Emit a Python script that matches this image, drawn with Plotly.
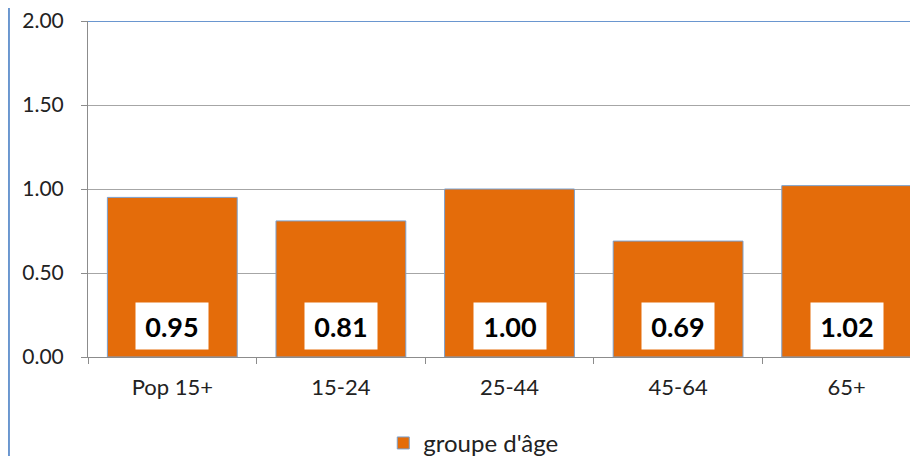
import plotly.graph_objects as go

categories = ["Pop 15+", "15-24", "25-44", "45-64", "65+"]
values = [0.95, 0.81, 1.00, 0.69, 1.02]
y_ticks = [0.0, 0.5, 1.0, 1.5, 2.0]
series_name = "groupe d'âge"

BAR = "#E46C0A"
FONT = "Lato, Arial, sans-serif"

fig = go.Figure()
fig.add_bar(
    x=categories, y=values, name=series_name, width=0.77,
    marker=dict(color=BAR, line=dict(color="#7BA0CD", width=1)),
    showlegend=True,
)

# value labels in white boxes near the bottom of each bar
for c, v in zip(categories, values):
    fig.add_annotation(
        x=c, y=0.183, text="<b>%.2f</b>" % v, showarrow=False,
        font=dict(family=FONT, size=27, color="black"),
        bgcolor="white", borderpad=6, width=60, height=34,
    )

# blue top border of the plot area and left border of the chart
fig.add_shape(type="line", xref="paper", yref="y", x0=0, x1=1, y0=2, y1=2,
              line=dict(color="#6A96CF", width=2), layer="above")
fig.add_shape(type="line", xref="paper", yref="paper", x0=-79 / 842.5, x1=-79 / 842.5,
              y0=-0.4, y1=1.1, line=dict(color="#6A96CF", width=2))

fig.update_layout(
    width=923, height=475,
    margin=dict(l=80, r=0, t=13, b=126),
    paper_bgcolor="white", plot_bgcolor="white",
    font=dict(family=FONT, size=22, color="#222"),
    legend=dict(orientation="h", x=0.457, xanchor="center", y=-0.19, yanchor="top",
                font=dict(size=24), itemwidth=30),
)
fig.update_xaxes(
    range=[-0.5, 4.5], automargin=False,
    showline=True, linecolor="#8C8C8C", linewidth=1,
    ticks="outside", tickson="boundaries", ticklen=6, tickcolor="#8C8C8C",
    showgrid=False, ticklabelstandoff=11,
)
fig.update_yaxes(
    range=[0, 2], tickvals=y_ticks, tickformat=".2f", automargin=False,
    tickfont=dict(size=21),
    showline=True, linecolor="#8C8C8C", linewidth=1,
    ticks="outside", ticklen=6, tickcolor="#8C8C8C",
    showgrid=True, gridcolor="#A6A6A6", gridwidth=1, zeroline=False,
    ticklabelstandoff=13, ticklabeloverflow="allow",
)

fig.write_html("out.html")
